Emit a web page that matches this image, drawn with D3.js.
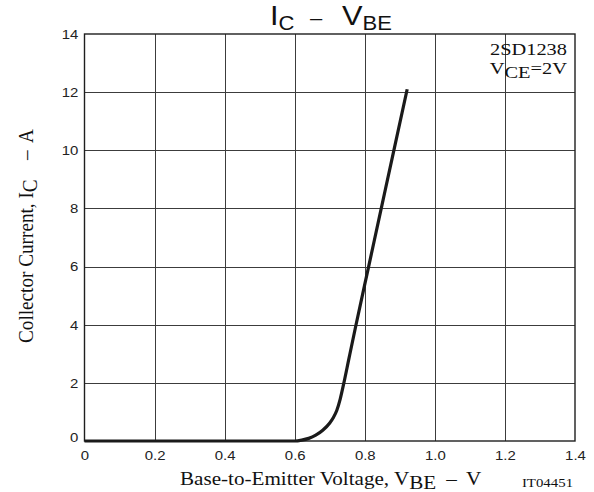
<!DOCTYPE html>
<html>
<head>
<meta charset="utf-8">
<script src="https://cdn.jsdelivr.net/npm/d3@7"></script>
<style>
  html, body { margin: 0; padding: 0; background: #fff; }
  svg { display: block; }
  .sans { font-family: "Liberation Sans", Arial, Helvetica, sans-serif; }
  .serif { font-family: "Liberation Serif", "Times New Roman", serif; }
</style>
</head>
<body>
<svg id="chart" width="594" height="492"></svg>
<script>
// Collector current vs. base-emitter voltage, 2SD1238 at VCE = 2 V
const vbe = [0, 0.60, 0.62, 0.64, 0.66, 0.68, 0.70, 0.71, 0.72, 0.73, 0.74, 0.755, 0.775, 0.811, 0.847, 0.883, 0.921];
const ic  = [0, 0,    0.03, 0.09, 0.20, 0.37, 0.62, 0.80, 1.05, 1.45, 1.98, 2.85,  4.0,   6.0,   8.0,   10.0,  12.1];
const xTicks = [0, 0.2, 0.4, 0.6, 0.8, 1.0, 1.2, 1.4];
const xTickLabels = ["0", "0.2", "0.4", "0.6", "0.8", "1.0", "1.2", "1.4"];
const yTicks = [0, 2, 4, 6, 8, 10, 12, 14];

const svg = d3.select("#chart");
const plotL = 84.5, plotR = 575, plotT = 34, plotB = 441;

const x = d3.scaleLinear().domain([0, 1.4]).range([plotL, plotR]);
const y = d3.scaleLinear().domain([0, 14]).range([plotB, plotT]);

// grid
const grid = svg.append("g");
grid.selectAll("line.vx").data(xTicks.slice(1, -1)).join("line")
  .attr("x1", d => Math.round(x(d)) + 0.5).attr("x2", d => Math.round(x(d)) + 0.5)
  .attr("y1", plotT).attr("y2", plotB)
  .attr("stroke", "#3c3c3c").attr("stroke-width", 1);
grid.selectAll("line.hy").data(yTicks.slice(1, -1)).join("line")
  .attr("y1", d => Math.round(y(d)) + 0.5).attr("y2", d => Math.round(y(d)) + 0.5)
  .attr("x1", plotL).attr("x2", plotR)
  .attr("stroke", "#3c3c3c").attr("stroke-width", 1);

// frame
svg.append("rect")
  .attr("x", plotL).attr("y", plotT)
  .attr("width", plotR - plotL).attr("height", plotB - plotT)
  .attr("fill", "none").attr("stroke", "#1e1e1e").attr("stroke-width", 1.4);

// tick labels via axes (no tick marks, no domain path)
const xAxis = d3.axisBottom(x).tickValues(xTicks)
  .tickFormat((d, i) => xTickLabels[i]).tickSize(0).tickPadding(9.3);
const gx = svg.append("g").attr("transform", `translate(0,${plotB})`).call(xAxis);
const yAxis = d3.axisLeft(y).tickValues(yTicks).tickSize(0).tickPadding(5.4);
const gy = svg.append("g").attr("transform", `translate(${plotL},0)`).call(yAxis);
[gx, gy].forEach(g => {
  g.select(".domain").remove();
  g.selectAll("text").attr("font-size", 13).attr("fill", "#222")
    .attr("transform", "scale(1.15,1)")
    .style("font-family", '"Liberation Sans", Arial, sans-serif');
});
gy.selectAll("text").attr("dy", d => d === 0 ? "0.02em" : "0.34em");

// curve
const line = d3.line().x((d, i) => x(vbe[i])).y(d => y(d)).curve(d3.curveMonotoneX);
svg.append("path").datum(ic)
  .attr("d", line)
  .attr("fill", "none").attr("stroke", "#1a1a1a").attr("stroke-width", 3.2)
  .attr("stroke-linejoin", "round").attr("stroke-linecap", "butt");

// title
const title = svg.append("text").attr("class", "sans")
  .attr("transform", "translate(270,25) scale(1.1,1)")
  .attr("font-size", 28).attr("fill", "#111");
title.append("tspan").attr("x", 0).text("I");
title.append("tspan").attr("font-size", 20).attr("dy", 4.5).text("C");
title.append("tspan").attr("font-size", 20).attr("x", 36.4).attr("dy", -4.5).text("\u2013");
title.append("tspan").attr("x", 65.5).text("V");
title.append("tspan").attr("font-size", 20).attr("dy", 4.5).text("BE");

// part annotation
svg.append("text").attr("class", "serif")
  .attr("transform", "translate(567,55) scale(1.2,1)")
  .attr("text-anchor", "end").attr("font-size", 17).attr("fill", "#111").text("2SD1238");
const vce = svg.append("text").attr("class", "serif")
  .attr("transform", "translate(567,73.5) scale(1.2,1)")
  .attr("text-anchor", "end").attr("font-size", 17).attr("fill", "#111");
vce.append("tspan").text("V");
vce.append("tspan").attr("dy", 4).text("CE");
vce.append("tspan").attr("dy", -4).text("=2V");

// x-axis title
const xt = svg.append("text").attr("class", "serif")
  .attr("transform", "translate(180,485) scale(1.1,1)")
  .attr("font-size", 19.2).attr("fill", "#111");
xt.append("tspan").attr("x", 0).text("Base-to-Emitter Voltage, V");
xt.append("tspan").attr("dy", 3.5).text("BE");
xt.append("tspan").attr("x", 242).attr("dy", -3.5).text("\u2013");
xt.append("tspan").attr("x", 260).text("V");

svg.append("text").attr("class", "serif")
  .attr("transform", "translate(547.5,486.5) scale(1.1,1)")
  .attr("text-anchor", "middle").attr("font-size", 13.5).attr("fill", "#111").text("IT04451");

// y-axis title
const yt = svg.append("text").attr("class", "serif")
  .attr("transform", "translate(33,343) rotate(-90) scale(1,1.1)")
  .attr("font-size", 19.2).attr("fill", "#111");
yt.append("tspan").attr("x", 0).text("Collector Current, I");
yt.append("tspan").attr("dy", 4).text("C");
yt.append("tspan").attr("x", 183).attr("dy", -4).text("\u2013");
yt.append("tspan").attr("x", 200).text("A");
</script>
</body>
</html>
